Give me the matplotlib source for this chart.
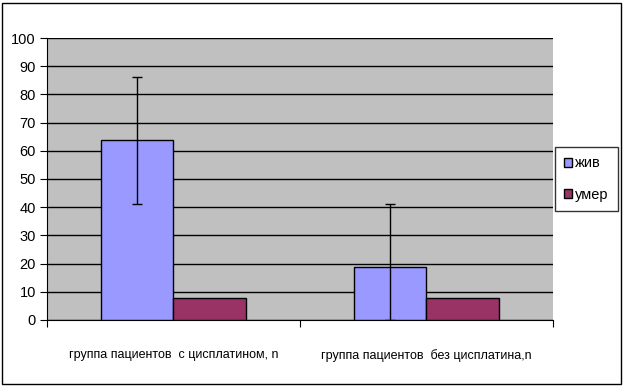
import matplotlib.pyplot as plt
import numpy as np

plt.rcParams['font.family'] = ['Liberation Sans', 'DejaVu Sans']

categories = ['группа пациентов  с цисплатином, n', 'группа пациентов  без цисплатина,n']
alive = [63.7, 18.7]
dead = [7.7, 7.7]
alive_err = [22.4, 22.4]
series_names = ['жив', 'умер']

fig = plt.figure(figsize=(6.24, 3.89), dpi=100)
# chart border
fig.patches.append(plt.Rectangle((0.004, 0.013), 0.991, 0.98, transform=fig.transFigure,
                                 fill=False, edgecolor='black', linewidth=1))
ax = fig.add_axes([0.0753, 0.1774, 0.8109, 0.7249])
ax.set_facecolor('#C0C0C0')

x = np.arange(len(categories))
w = 0.286
ax.bar(x - w / 2, alive, w, color='#9999FF', edgecolor='black', linewidth=1, zorder=3,
       label=series_names[0])
ax.bar(x + w / 2, dead, w, color='#993366', edgecolor='black', linewidth=1, zorder=3,
       label=series_names[1])
lower = [min(a, e) for a, e in zip(alive, alive_err)]
ax.errorbar(x - w / 2, alive, yerr=[lower, alive_err], fmt='none', ecolor='black',
            elinewidth=1, capsize=3.5, capthick=1, zorder=4)

ax.set_xlim(-0.5, 1.5)
ax.set_ylim(0, 100)
ax.set_yticks(range(0, 101, 10))
ax.yaxis.grid(True, color='black', linewidth=1, zorder=1)
ax.set_axisbelow(True)
ax.set_xticks([-0.5, 0.5, 1.5])
ax.set_xticklabels([])
ax.set_xticks(x, minor=True)
ax.set_xticklabels(categories, minor=True, fontsize=9)
ax.tick_params(axis='x', which='minor', length=0, pad=21)
ax.tick_params(axis='x', which='major', length=5, direction='out')
ax.tick_params(axis='y', length=5, direction='out', labelsize=10.5, pad=3)
for s in ['top', 'right']:
    ax.spines[s].set_visible(False)

leg = ax.legend(loc='upper left', bbox_to_anchor=(1.004, 0.613), frameon=True,
                fancybox=False, edgecolor='black', fontsize=10.5, handlelength=0.55,
                handleheight=0.55, handletextpad=0.2, labelspacing=1.2, borderpad=0.63,
                borderaxespad=0)
leg.get_frame().set_linewidth(1)

fig.savefig('out.png', dpi=100)
